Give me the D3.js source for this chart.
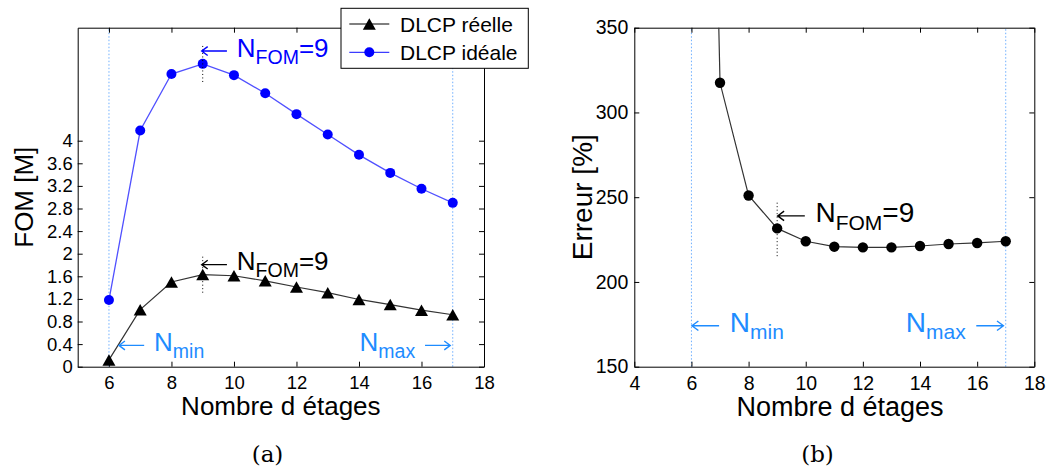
<!DOCTYPE html>
<html><head><meta charset="utf-8">
<script src="https://cdn.jsdelivr.net/npm/d3@7/dist/d3.min.js"></script>
<style>body{margin:0;background:#fff;} svg{display:block;}</style>
</head><body><svg id="c" width="1046" height="471"></svg>
<script>
// ---------- data ----------
const etages = [6, 7, 8, 9, 10, 11, 12, 13, 14, 15, 16, 17];
const fomReelle = [0.12, 1.01, 1.50, 1.63, 1.61, 1.52, 1.41, 1.31, 1.19, 1.10, 1.00, 0.92];
const fomIdeale = [1.18, 4.18, 5.18, 5.36, 5.16, 4.84, 4.47, 4.11, 3.75, 3.43, 3.15, 2.90];
const erreur = [1080, 317.5, 251, 231.6, 224, 220.8, 220.4, 220.4, 221.2, 222.4, 223, 224];
const fomTicks = [0, 0.4, 0.8, 1.2, 1.6, 2, 2.4, 2.8, 3.2, 3.6, 4];
const etageTicksA = [6, 8, 10, 12, 14, 16, 18];
const etageTicksB = [4, 6, 8, 10, 12, 14, 16, 18];
const erreurTicks = [150, 200, 250, 300, 350];
const seriesNames = ["DLCP réelle", "DLCP idéale"];
const xLabelText = "Nombre d étages";
const yLabelA = "FOM [M]";
const yLabelB = "Erreur [%]";
const nMin = 6, nMax = 17, nFom = 9;

// ---------- setup ----------
const svg = d3.select("#c");
const SANS = "'Liberation Sans', Arial, Helvetica, sans-serif";
const LBLUE = "rgb(30,140,255)";
const DOTBLUE = "rgb(110,175,255)";

function triPath(w, h) {
  return `M0,${-h/2}L${w/2},${h/2}L${-w/2},${h/2}Z`;
}

// annotation: arrow drawn as a path + text with subscript
function note(g, px, py, parts, opts) {
  const s = opts.size, L = s * 0.97, gap = s * 0.38, ay = py - s * 0.21;
  const head = s * 0.23, hh = s * 0.17;
  let tx, anchor;
  if (opts.arrow === "left") {
    g.append("path").attr("d", `M${px + L},${ay}H${px}M${px + head},${ay - hh}L${px},${ay}L${px + head},${ay + hh}`)
      .attr("fill", "none").attr("stroke", opts.color).attr("stroke-width", 1.4);
    tx = px + L + gap; anchor = "start";
  } else {
    g.append("path").attr("d", `M${px - L},${ay}H${px}M${px - head},${ay - hh}L${px},${ay}L${px - head},${ay + hh}`)
      .attr("fill", "none").attr("stroke", opts.color).attr("stroke-width", 1.4);
    tx = px - L - gap; anchor = "end";
  }
  const t = g.append("text").attr("x", tx).attr("y", py)
    .attr("font-family", SANS).attr("font-size", s)
    .attr("fill", opts.color).attr("text-anchor", anchor);
  const sub = s * 0.75, shift = s * 0.28;
  let cur = 0;
  parts.forEach(p => {
    const sp = t.append("tspan").text(p.t);
    const target = p.sub ? shift : 0;
    if (target !== cur) { sp.attr("dy", target - cur); cur = target; }
    if (p.sub) sp.attr("font-size", sub);
  });
}

function frame(g, x, y, xt, yt, fs, padX, padY) {
  const [x0, x1] = x.range(), [y0, y1] = y.range();
  const ax = d3.axisBottom(x).tickValues(xt).tickSizeInner(-5).tickSizeOuter(0).tickPadding(padX).tickFormat(d3.format("~g"));
  const ay = d3.axisLeft(y).tickValues(yt).tickSizeInner(-5).tickSizeOuter(0).tickPadding(padY).tickFormat(d3.format("~g"));
  const axT = d3.axisTop(x).tickValues(xt).tickSizeInner(-5).tickSizeOuter(0).tickFormat("");
  const ayR = d3.axisRight(y).tickValues(yt).tickSizeInner(-5).tickSizeOuter(0).tickFormat("");
  const gb = g.append("g").attr("transform", `translate(0,${y0})`).call(ax);
  const gl = g.append("g").attr("transform", `translate(${x0},0)`).call(ay);
  g.append("g").attr("transform", `translate(0,${y1})`).call(axT);
  g.append("g").attr("transform", `translate(${x1},0)`).call(ayR);
  g.selectAll(".domain").attr("stroke", "#000").attr("stroke-width", 1);
  g.selectAll(".tick line").attr("stroke", "#000");
  [gb, gl].forEach(a => a.selectAll("text").attr("font-family", SANS).attr("font-size", fs).attr("fill", "#000"));
}

// ================= Panel (a) =================
{
  const g = svg.append("g");
  const x = d3.scaleLinear().domain([5, 18]).range([77.7, 484]);
  const y = d3.scaleLinear().domain([0, 6]).range([366.7, 27.7]);

  [nMin, nMax].forEach(v => g.append("line").attr("x1", x(v)).attr("x2", x(v))
    .attr("y1", y(0)).attr("y2", y(6)).attr("stroke", DOTBLUE).attr("stroke-width", 1)
    .attr("stroke-dasharray", "1.5,2"));

  frame(g, x, y, etageTicksA, fomTicks, 18.5, 9, 5);

  const line = d3.line().x((d, i) => x(etages[i])).y(d => y(d));
  g.append("path").datum(fomIdeale).attr("d", line).attr("fill", "none")
    .attr("stroke", "rgb(80,80,255)").attr("stroke-width", 1.3);
  g.append("path").datum(fomReelle).attr("d", line).attr("fill", "none")
    .attr("stroke", "#333").attr("stroke-width", 1.2);

  g.selectAll(".ci").data(fomIdeale).join("circle")
    .attr("cx", (d, i) => x(etages[i])).attr("cy", d => y(d)).attr("r", 5).attr("fill", "#0000ff");
  g.selectAll(".tr").data(fomReelle).join("path")
    .attr("d", triPath(13, 11.5))
    .attr("transform", (d, i) => `translate(${x(etages[i])},${y(d)})`).attr("fill", "#000");

  const iF = etages.indexOf(nFom);
  [fomIdeale[iF], fomReelle[iF]].forEach(v => g.append("line")
    .attr("x1", x(nFom)).attr("x2", x(nFom)).attr("y1", y(v - 0.32)).attr("y2", y(v + 0.32))
    .attr("stroke", "#000").attr("stroke-width", 1).attr("stroke-dasharray", "1,2.5"));

  note(g, x(nFom) - 1, y(5.49), [{t: "N"}, {t: "FOM", sub: true}, {t: "=9"}], {size: 26, color: "#0000ff", arrow: "left"});
  note(g, x(nFom) - 1, y(1.71), [{t: "N"}, {t: "FOM", sub: true}, {t: "=9"}], {size: 26, color: "#000", arrow: "left"});
  note(g, x(6.32), y(0.28), [{t: "N"}, {t: "min", sub: true}], {size: 26, color: LBLUE, arrow: "left"});
  note(g, x(16.92), y(0.28), [{t: "N"}, {t: "max", sub: true}], {size: 26, color: LBLUE, arrow: "right"});

  g.append("text").attr("x", x(11.5)).attr("y", 415).attr("text-anchor", "middle")
    .attr("font-family", SANS).attr("font-size", 26).text(xLabelText);
  g.append("text").attr("transform", `translate(33,${y(3)}) rotate(-90)`).attr("text-anchor", "middle")
    .attr("font-family", SANS).attr("font-size", 26).text(yLabelA);
  g.append("text").attr("x", 267.5).attr("y", 462).attr("text-anchor", "middle")
    .attr("font-family", "'DejaVu Serif', serif").attr("font-size", 23).text("(a)");

  // legend
  const L = g.append("g");
  L.append("rect").attr("x", 341).attr("y", 8.3).attr("width", 187.3).attr("height", 60)
    .attr("fill", "#fff").attr("stroke", "#000").attr("stroke-width", 1);
  const rows = [24, 52.3];
  seriesNames.forEach((name, k) => {
    const col = k === 0 ? "#000" : "#0000ff";
    L.append("line").attr("x1", 349.3).attr("x2", 389.3).attr("y1", rows[k]).attr("y2", rows[k])
      .attr("stroke", k === 0 ? "#000" : "rgb(60,60,255)").attr("stroke-width", 1.2);
    if (k === 0) L.append("path").attr("d", triPath(13, 11.5)).attr("transform", `translate(369.3,${rows[k]})`).attr("fill", col);
    else L.append("circle").attr("cx", 369.3).attr("cy", rows[k]).attr("r", 5).attr("fill", col);
    L.append("text").attr("x", 400).attr("y", rows[k] + 7.5).attr("font-family", SANS)
      .attr("font-size", 21).attr("fill", "#000").text(name);
  });
}

// ================= Panel (b) =================
{
  const g = svg.append("g");
  const x = d3.scaleLinear().domain([4, 18]).range([634.3, 1034.3]);
  const y = d3.scaleLinear().domain([150, 350]).range([366.7, 27.7]);

  [nMin, nMax].forEach(v => g.append("line").attr("x1", x(v)).attr("x2", x(v))
    .attr("y1", y(150)).attr("y2", y(350)).attr("stroke", DOTBLUE).attr("stroke-width", 1)
    .attr("stroke-dasharray", "1.5,2"));

  frame(g, x, y, etageTicksB, erreurTicks, 19.5, 9, 6);

  g.append("clipPath").attr("id", "clipB").append("rect")
    .attr("x", 634.3).attr("y", 27.7).attr("width", 400).attr("height", 339);
  const line = d3.line().x((d, i) => x(etages[i])).y(d => y(d));
  g.append("path").datum(erreur).attr("d", line).attr("fill", "none")
    .attr("stroke", "#333").attr("stroke-width", 1.2).attr("clip-path", "url(#clipB)");
  g.selectAll(".ce").data(erreur).join("circle")
    .attr("cx", (d, i) => x(etages[i])).attr("cy", d => y(d)).attr("r", 5.2).attr("fill", "#000")
    .attr("clip-path", "url(#clipB)");

  const iF = etages.indexOf(nFom);
  g.append("line").attr("x1", x(nFom)).attr("x2", x(nFom))
    .attr("y1", y(erreur[iF] - 16.4)).attr("y2", y(erreur[iF] + 16.4))
    .attr("stroke", "#000").attr("stroke-width", 1).attr("stroke-dasharray", "1,2.5");

  note(g, x(nFom) + 0.5, y(235.5), [{t: "N"}, {t: "FOM", sub: true}, {t: "=9"}], {size: 28, color: "#000", arrow: "left"});
  note(g, x(6.0) + 0.5, y(170.7), [{t: "N"}, {t: "min", sub: true}], {size: 28, color: LBLUE, arrow: "left"});
  note(g, x(16.92), y(170.7), [{t: "N"}, {t: "max", sub: true}], {size: 28, color: LBLUE, arrow: "right"});

  g.append("text").attr("x", x(11.2)).attr("y", 415.5).attr("text-anchor", "middle")
    .attr("font-family", SANS).attr("font-size", 27).text(xLabelText);
  g.append("text").attr("transform", `translate(591.5,${y(250)}) rotate(-90)`).attr("text-anchor", "middle")
    .attr("font-family", SANS).attr("font-size", 28).text(yLabelB);
  g.append("text").attr("x", 817.5).attr("y", 462).attr("text-anchor", "middle")
    .attr("font-family", "'DejaVu Serif', serif").attr("font-size", 23).text("(b)");
}
</script></body></html>
